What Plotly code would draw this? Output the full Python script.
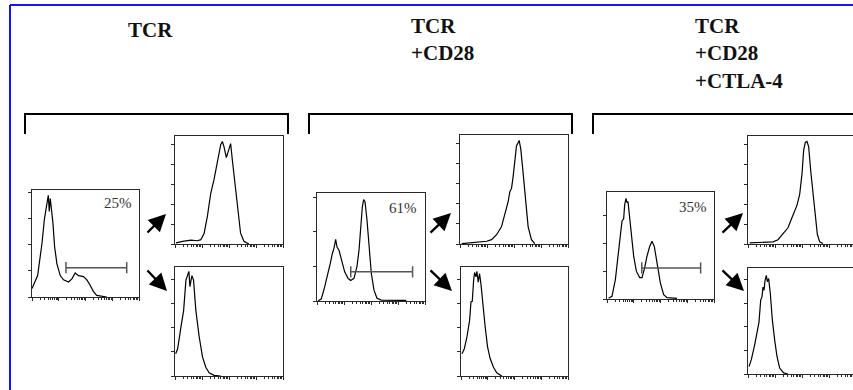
import plotly.graph_objects as go

W, H = 853, 390

# ---------------------------------------------------------------- data
conditions = ["TCR", "TCR<br>+CD28", "TCR<br>+CD28<br>+CTLA-4"]
gate_labels = ["25%", "61%", "35%"]

# gate limits (log10 intensity) and the count level the gate bar sits at
gate_lo = [1.27, 1.25, 1.30]
gate_hi = [3.54, 3.54, 3.50]
gate_level = [27.4, 27.0, 29.0]

# --- TCR
tcr_all_log = [0, 0.124, 0.211, 0.286, 0.373, 0.460, 0.509, 0.559, 0.609, 0.646,
               0.683, 0.720, 0.783, 0.845, 0.932, 1.056, 1.180, 1.366, 1.491, 1.615,
               1.739, 1.925, 2.050, 2.174, 2.298, 2.422, 2.609, 2.795]
tcr_all_cnt = [8, 16, 20, 34, 50, 72, 78, 87.5, 95, 80,
               92, 85, 69, 47, 31, 20, 16, 14, 17, 22.5,
               20, 19, 16, 11, 5, 1.5, 0.6, 0]
tcr_hi_log = [0.037, 0.282, 0.589, 0.834, 0.957, 1.080, 1.202, 1.325, 1.448, 1.571,
              1.693, 1.755, 1.816, 1.902, 1.975, 2.061, 2.123, 2.245, 2.344, 2.429,
              2.552, 2.736]
tcr_hi_cnt = [1, 2.5, 3.5, 3, 4, 10, 26, 47, 60, 75,
              92, 95, 90, 80, 87, 93, 78, 50, 32, 10,
              2.5, 0]
tcr_lo_log = [0.025, 0.098, 0.221, 0.319, 0.405, 0.466, 0.515, 0.552, 0.589, 0.626,
              0.687, 0.773, 0.896, 1.018, 1.141, 1.264, 1.448, 1.693]
tcr_lo_cnt = [20.5, 25, 45, 60, 88, 94, 96, 82, 89, 92,
              88, 60, 36, 17.5, 8, 3, 0.6, 0]

# --- TCR + CD28
cd28_all_log = [0.037, 0.160, 0.284, 0.407, 0.494, 0.568, 0.630, 0.691, 0.741, 0.815,
                0.901, 1.025, 1.148, 1.247, 1.370, 1.481, 1.556, 1.617, 1.679, 1.728,
                1.778, 1.852, 1.926, 2.012, 2.111, 2.222, 2.383, 2.691, 3.309]
cd28_all_cnt = [0, 2, 13, 25, 35, 44, 49, 57, 50, 47,
                38, 27, 21, 19, 21, 32, 47, 69, 87, 94,
                92, 75, 50, 25.5, 10, 2.5, 0.8, 0.8, 0.5]
cd28_hi_log = [0.062, 0.492, 0.985, 1.169, 1.354, 1.538, 1.662, 1.785, 1.846, 1.908,
               1.969, 2.031, 2.092, 2.191, 2.252, 2.338, 2.437, 2.523, 2.646, 2.769]
cd28_hi_cnt = [0.3, 1.5, 2.5, 4, 8.5, 16, 27, 39, 48, 51,
               62, 77, 90, 95, 87, 65, 38, 16, 4, 0.3]
cd28_lo_log = [0.037, 0.124, 0.223, 0.322, 0.372, 0.421, 0.471, 0.508, 0.557, 0.594,
               0.644, 0.693, 0.743, 0.817, 0.904, 0.991, 1.090, 1.214, 1.338, 1.523]
cd28_lo_cnt = [20.5, 25, 36, 51, 68, 68.5, 87.5, 95, 91, 96,
               86, 94, 85, 63, 45, 27, 16, 8, 3, 0]

# --- TCR + CD28 + CTLA-4
ctla4_all_log = [0.062, 0.187, 0.312, 0.399, 0.474, 0.561, 0.623, 0.660, 0.710, 0.748,
                 0.785, 0.835, 0.910, 0.997, 1.097, 1.221, 1.308, 1.408, 1.495, 1.595,
                 1.682, 1.769, 1.869, 1.994, 2.118, 2.243, 2.617]
ctla4_all_cnt = [0.6, 2.5, 18, 37, 55, 73, 75, 88, 94, 90,
                 91, 80, 61, 40, 26, 20, 20, 29, 40, 49,
                 54, 49, 34, 15, 4, 1.2, 0.6]
ctla4_hi_log = [0.062, 0.432, 0.926, 1.111, 1.296, 1.481, 1.605, 1.728, 1.815, 1.914,
                2.000, 2.062, 2.123, 2.185, 2.247, 2.321, 2.407, 2.494, 2.568, 2.654,
                2.778]
ctla4_hi_cnt = [1, 1.5, 2, 4, 9, 15, 23, 31, 36, 46,
                65, 87, 94, 95, 90, 68, 46, 24.5, 9, 2,
                0.5]
ctla4_lo_log = [0.037, 0.123, 0.247, 0.333, 0.407, 0.469, 0.519, 0.556, 0.593, 0.630,
                0.679, 0.716, 0.765, 0.827, 0.901, 0.988, 1.074, 1.173, 1.321, 1.481]
ctla4_lo_cnt = [7, 13.5, 27.5, 38.5, 49, 69.5, 73, 82, 79, 88,
                93, 87, 90, 76, 51, 32, 16.5, 5.6, 1, 0]

histograms = [
    [(tcr_all_log, tcr_all_cnt), (tcr_hi_log, tcr_hi_cnt), (tcr_lo_log, tcr_lo_cnt)],
    [(cd28_all_log, cd28_all_cnt), (cd28_hi_log, cd28_hi_cnt), (cd28_lo_log, cd28_lo_cnt)],
    [(ctla4_all_log, ctla4_all_cnt), (ctla4_hi_log, ctla4_hi_cnt), (ctla4_lo_log, ctla4_lo_cnt)],
]

# ---------------------------------------------------------------- layout geometry (pixels)
boxes = [
    {"all": (32, 190, 139, 297), "hi": (175, 136, 283, 244), "lo": (175, 267, 283, 376)},
    {"all": (317, 193, 425, 301), "hi": (460, 135, 568, 244), "lo": (461, 267, 568, 376)},
    {"all": (607, 192, 714, 299), "hi": (748, 136, 856, 244), "lo": (748, 268, 856, 374)},
]
count_dtick = {"all": [24.4, 32.0, 26.0], "hi": [18.5] * 3, "lo": [22.2] * 3}
title_pos = [(126, 16), (409, 12), (693, 12)]
label_pos = [(134, 203), (419, 208), (709, 207)]
bracket_x = [(25, 288), (309, 572), (593, 856)]
arrows_up = [((166, 214), (146, 234)), ((451, 213), (429, 234)), ((743, 213), (721, 234))]
arrows_dn = [((167, 291), (146, 269)), ((452, 291), (429, 269)), ((744, 291), (721, 269))]

FONT = "Liberation Serif"
FRAME = "#2a2a2a"


def px(x):
    return x / W


def py(y):
    return 1 - y / H


decades = [10 ** d for d in range(5)]
minor_vals = [k * 10 ** d for d in range(4) for k in range(2, 10)]

fig = go.Figure()
layout = {}
idx = 0
for c in range(3):
    for kind, (lx, ly) in zip(["all", "hi", "lo"], histograms[c]):
        idx += 1
        x0, y0, x1, y1 = boxes[c][kind]
        xmax = 4.0
        clipped = x1 > W
        if clipped:
            xmax = 4.0 * (W - x0) / (x1 - x0)
            x1 = W
        xa, ya = f"xaxis{idx}", f"yaxis{idx}"
        layout[xa] = dict(
            domain=[px(x0), px(x1)], anchor=f"y{idx}", type="log", range=[0, xmax],
            showline=True, linecolor=FRAME, linewidth=1, mirror=True,
            showgrid=False, zeroline=False, showticklabels=False,
            tickmode="array", tickvals=decades, ticks="outside", ticklen=3,
            tickcolor=FRAME, tickwidth=1,
            minor=dict(tickmode="array", tickvals=minor_vals, ticks="outside",
                       ticklen=2, tickcolor=FRAME, tickwidth=1),
        )
        layout[ya] = dict(
            domain=[py(y1), py(y0)], anchor=f"x{idx}", range=[0, 100],
            showline=True, linecolor=FRAME, linewidth=1, mirror=not clipped,
            showgrid=False, zeroline=False, showticklabels=False,
            dtick=count_dtick[kind][c], ticks="outside", ticklen=3,
            tickcolor=FRAME, tickwidth=1,
            minor=dict(nticks=5, ticks="outside", ticklen=1.5,
                       tickcolor=FRAME, tickwidth=1),
        )
        fig.add_trace(go.Scatter(
            x=[10 ** v for v in lx], y=ly, mode="lines",
            line=dict(color="black", width=1.2),
            xaxis=f"x{idx}", yaxis=f"y{idx}", showlegend=False, hoverinfo="skip",
        ))
        if kind == "all":
            fig.add_trace(go.Scatter(
                x=[10 ** gate_lo[c], 10 ** gate_hi[c]], y=[gate_level[c]] * 2,
                mode="lines+markers",
                line=dict(color="#555555", width=1.5),
                marker=dict(symbol="line-ns-open", size=8,
                            line=dict(color="#555555", width=1.5)),
                xaxis=f"x{idx}", yaxis=f"y{idx}", showlegend=False, hoverinfo="skip",
            ))

annotations = []
shapes = []
for c in range(3):
    tx, ty = title_pos[c]
    annotations.append(dict(
        text=f"<b>{conditions[c]}</b>", x=px(tx), y=py(ty), xref="paper", yref="paper",
        xanchor="left", yanchor="top", align="left", showarrow=False,
        font=dict(family=FONT, size=21, color="#111111"),
    ))
    lx_, ly_ = label_pos[c]
    annotations.append(dict(
        text=gate_labels[c], x=px(lx_), y=py(ly_), xref="paper", yref="paper",
        xanchor="right", yanchor="middle", showarrow=False,
        font=dict(family=FONT, size=15, color="#333333"),
    ))
    for (tip, tail) in (arrows_up[c], arrows_dn[c]):
        annotations.append(dict(
            text="", x=px(tip[0]), y=py(tip[1]), xref="paper", yref="paper",
            ax=tail[0] - tip[0], ay=tail[1] - tip[1], axref="pixel", ayref="pixel",
            showarrow=True, arrowhead=2, arrowsize=1.5, arrowwidth=2.3,
            arrowcolor="black", standoff=0,
        ))
    bx0, bx1 = bracket_x[c]
    shapes.append(dict(
        type="path", xref="paper", yref="paper",
        path=(f"M{px(bx0)},{py(134)} L{px(bx0)},{py(114)} "
              f"L{px(bx1)},{py(114)} L{px(bx1)},{py(134)}"),
        line=dict(color="black", width=2),
    ))

# blue outer frame
shapes.append(dict(type="line", xref="paper", yref="paper",
                   x0=px(10), x1=px(10), y0=py(400), y1=py(5),
                   line=dict(color="#1414ff", width=2)))
shapes.append(dict(type="line", xref="paper", yref="paper",
                   x0=px(10), x1=px(870), y0=py(5), y1=py(5),
                   line=dict(color="#1414ff", width=2)))

fig.update_layout(
    width=W, height=H, margin=dict(l=0, r=0, t=0, b=0),
    paper_bgcolor="white", plot_bgcolor="white",
    annotations=annotations, shapes=shapes, **layout,
)

fig.write_html("out.html")
